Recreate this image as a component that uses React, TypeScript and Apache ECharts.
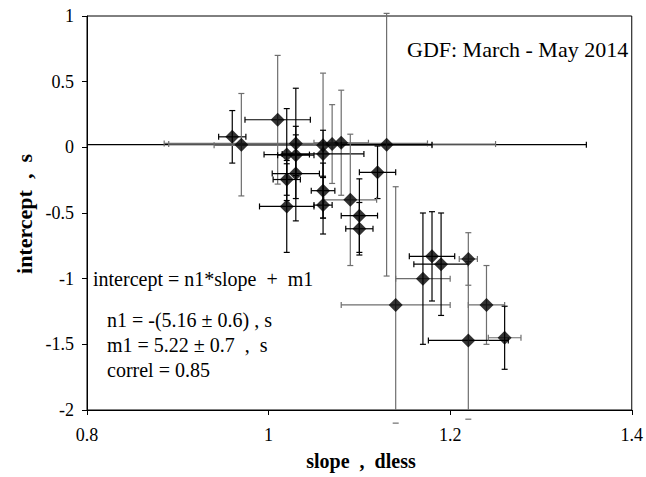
import React, { useEffect, useRef } from "react";
import * as echarts from "echarts";

// slope (x), intercept (y), symmetric error half-widths, and error-bar tone (0 black, 1 grey)
const slope = [0.96, 0.97, 1.01, 1.03, 1.06, 1.07, 1.08, 1.13, 1.02, 1.03, 1.06, 1.03, 1.02, 1.12, 1.06, 1.09, 1.06, 1.02, 1.10, 1.10, 1.14, 1.17, 1.18, 1.19, 1.22, 1.24, 1.22, 1.26];
const intercept = [0.08, 0.02, 0.21, 0.03, 0.015, 0.025, 0.035, 0.02, -0.055, -0.06, -0.05, -0.20, -0.245, -0.19, -0.33, -0.40, -0.44, -0.45, -0.52, -0.62, -1.20, -1.00, -0.83, -0.89, -0.85, -1.20, -1.47, -1.45];
const slopeErr = [0.015, 0.38, 0.036, 0.145, 0.12, 0.18, 0.03, 0.05, 0.025, 0.02, 0.045, 0.026, 0.015, 0.02, 0.013, 0.029, 0.01, 0.03, 0.02, 0.015, 0.06, 0.03, 0.025, 0.03, 0.01, 0.02, 0.044, 0.018];
const interceptErr = [0.20, 0.39, 0.49, 0.42, 0.55, 0.30, 0.40, 1.0, 0.35, 0.155, 0.18, 0.36, 0.12, 0.20, 0.21, 0.50, 0.22, 0.35, 0.28, 0.20, 0.90, 0.50, 0.34, 0.39, 0.20, 0.30, 0.60, 0.24];
const slopeBarTone = [0, 0, 0, 1, 1, 1, 1, 0, 0, 0, 0, 0, 0, 0, 0, 1, 0, 0, 0, 0, 1, 1, 0, 0, 1, 1, 0, 1];
const interceptBarTone = [0, 1, 1, 0, 1, 1, 1, 1, 0, 0, 0, 0, 0, 0, 0, 1, 0, 0, 0, 0, 1, 0, 0, 0, 1, 1, 1, 0];

const xTicks = { min: 0.8, max: 1.4, interval: 0.2 };
const yTicks = { min: -2, max: 1, interval: 0.5 };

const titleText = "GDF: March - May 2014";
const fitLines = [
  "n1 = -(5.16 \u00b1 0.6) , s",
  "m1 = 5.22 \u00b1 0.7  ,  s",
  "correl = 0.85",
];
const fitEquation = "intercept = n1*slope  +  m1";

const FONT = '"Liberation Serif", "Times New Roman", serif';
const TONES = ["#000000", "#6e6e6e"];

export default function App() {
  const ref = useRef<HTMLDivElement>(null);
  useEffect(() => {
    if (!ref.current) return;
    const chart = echarts.init(ref.current, undefined, { renderer: "svg" });
    const barData = slope.map((x, i) => [x, intercept[i], slopeErr[i], interceptErr[i], slopeBarTone[i], interceptBarTone[i]]);
    const cap = 3;
    const lw = 1.2;
    const option: any = {
      animation: false,
      backgroundColor: "#fff",
      textStyle: { fontFamily: "Liberation Serif", color: "#000" },
      grid: {
        left: 87,
        right: 11,
        top: 16,
        bottom: 67,
        show: true,
        borderColor: "#000",
        borderWidth: 1,
        backgroundColor: "transparent",
      },
      xAxis: {
        type: "value",
        min: xTicks.min,
        max: xTicks.max,
        interval: xTicks.interval,
        splitLine: { show: false },
        axisLine: { show: true, onZero: false, lineStyle: { color: "#000", width: 1 } },
        axisTick: { show: true, length: 5, lineStyle: { color: "#000" } },
        axisLabel: { fontFamily: "Liberation Serif", fontSize: 18, color: "#000", margin: 16 },
      },
      yAxis: {
        type: "value",
        min: yTicks.min,
        max: yTicks.max,
        interval: yTicks.interval,
        splitLine: { show: false },
        axisLine: { show: true, onZero: false, lineStyle: { color: "#000", width: 1 } },
        axisTick: { show: true, length: 5, lineStyle: { color: "#000" } },
        axisLabel: { fontFamily: "Liberation Serif", fontSize: 18, color: "#000", margin: 13 },
      },
      series: [
        {
          type: "custom",
          data: barData,
          encode: { x: 0, y: 1 },
          z: 2,
          renderItem: (params: any, api: any) => {
            const cs = params.coordSys;
            const left = cs.x;
            const right = cs.x + cs.width;
            const bottom = cs.y + cs.height;
            const x = api.value(0);
            const y = api.value(1);
            const xe = api.value(2);
            const ye = api.value(3);
            const xc = TONES[api.value(4)];
            const yc = TONES[api.value(5)];
            const c = api.coord([x, y]);
            const l = api.coord([x - xe, y]);
            const r = api.coord([x + xe, y]);
            const t = api.coord([x, y + ye]);
            const b = api.coord([x, y - ye]);
            const children: any[] = [];
            const hx1 = Math.max(l[0], left);
            const hx2 = Math.min(r[0], right);
            children.push({ type: "line", shape: { x1: hx1, y1: c[1], x2: hx2, y2: c[1] }, style: { stroke: xc, lineWidth: lw } });
            if (l[0] >= left - 0.5) children.push({ type: "line", shape: { x1: l[0], y1: c[1] - cap, x2: l[0], y2: c[1] + cap }, style: { stroke: xc, lineWidth: lw } });
            if (r[0] <= right + 0.5) children.push({ type: "line", shape: { x1: r[0], y1: c[1] - cap, x2: r[0], y2: c[1] + cap }, style: { stroke: xc, lineWidth: lw } });
            const vy2 = Math.min(b[1], bottom);
            children.push({ type: "line", shape: { x1: c[0], y1: t[1], x2: c[0], y2: vy2 }, style: { stroke: yc, lineWidth: lw } });
            children.push({ type: "line", shape: { x1: c[0] - cap, y1: t[1], x2: c[0] + cap, y2: t[1] }, style: { stroke: yc, lineWidth: lw } });
            children.push({ type: "line", shape: { x1: c[0] - cap, y1: b[1], x2: c[0] + cap, y2: b[1] }, style: { stroke: yc, lineWidth: lw } });
            return { type: "group", children };
          },
        },
        {
          type: "scatter",
          data: slope.map((x, i) => [x, intercept[i]]),
          symbol: "diamond",
          symbolSize: [14, 14],
          itemStyle: { color: "#000" },
          z: 3,
        },
      ],
      graphic: [
        {
          type: "text",
          x: 407,
          y: 49,
          style: { text: titleText, font: `22px ${FONT}`, fill: "#000", textAlign: "left", textVerticalAlign: "middle" },
        },
        {
          type: "text",
          x: 93,
          y: 279,
          style: { text: fitEquation, font: `20px ${FONT}`, fill: "#000", textAlign: "left", textVerticalAlign: "middle" },
        },
        ...fitLines.map((s, i) => ({
          type: "text",
          x: 107,
          y: 320 + i * 25,
          style: { text: s, font: `20px ${FONT}`, fill: "#000", textAlign: "left", textVerticalAlign: "middle" },
        })),
        {
          type: "text",
          x: 361,
          y: 461,
          style: { text: "slope  ,  dless", font: `bold 20px ${FONT}`, fill: "#000", textAlign: "center", textVerticalAlign: "middle" },
        },
        {
          type: "text",
          x: 24,
          y: 214,
          rotation: Math.PI / 2,
          style: { text: "intercept  ,  s", font: `bold 22px ${FONT}`, fill: "#000", textAlign: "center", textVerticalAlign: "middle" },
        },
      ],
    };
    chart.setOption(option);
    return () => chart.dispose();
  }, []);
  return <div ref={ref} style={{ position: "fixed", left: 0, top: 0, width: 646, height: 477 }} />;
}
